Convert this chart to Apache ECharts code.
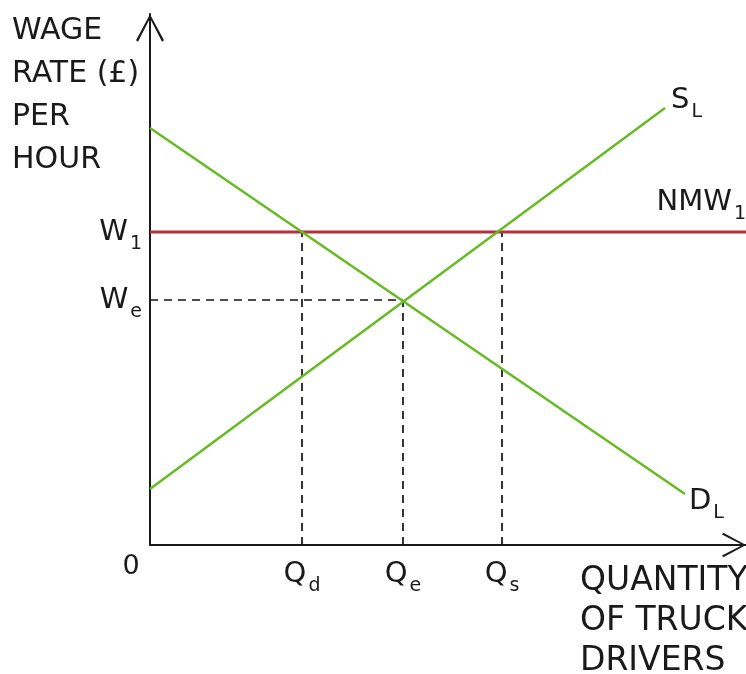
<!DOCTYPE html>
<html>
<head>
<meta charset="utf-8">
<script src="https://cdn.jsdelivr.net/npm/echarts@6/dist/echarts.min.js"></script>
<style>
html, body { margin: 0; padding: 0; background: #fff; }
#container { width: 746px; height: 674px; }
</style>
</head>
<body>
<div id="container"></div>
<script>
// diagram units: quantity along x, wage along y
var demandLine = [[0, 417], [535, 51]];
var supplyLine = [[0, 56], [515, 437]];
var wageW1 = 313;
var wageWe = 245;
var qD = 152;
var qE = 253;
var qS = 352;
var xMax = 596;
var yMax = 531;
var yTickValues = [wageWe, wageW1];
var yTickLabels = ['W{s|e}', 'W{s|1}'];
var xTickValues = [0, qD, qE, qS];
var xTickLabels = ['{z|0}', 'Q{s|d}', 'Q{s|e}', 'Q{s|s}'];

var font = 'DejaVu Sans';
var green = '#66bb22';
var red = '#b3323f';
var ink = '#1a1a1a';

// subscript style shared by every label
var rich = {
	s: { fontSize: 19, fontFamily: font, color: ink, padding: [24, 0, 0, 2] },
	z: { fontSize: 27, fontFamily: font, color: ink, padding: [0, 38, 0, 0] }
};

function labelStyle(extra) {
	var o = { fontSize: 29, fontFamily: font, color: ink, rich: rich };
	for (var k in extra) o[k] = extra[k];
	return o;
}

function dashed(points) {
	return {
		type: 'line',
		data: points,
		symbol: 'none',
		silent: true,
		z: 1,
		lineStyle: { color: '#111', width: 1.7, type: [8, 6] }
	};
}

var arrow = 'path://M14,0 L28,26 L26,27.5 L14,4 L2,27.5 L0,26 Z';

var myChart = echarts.init(document.getElementById('container'));
var option = {
	animation: false,
	grid: { left: 150, top: 14, right: 0, bottom: 129 },
	xAxis: {
		type: 'value', min: 0, max: xMax,
		splitLine: { show: false },
		axisLine: {
			lineStyle: { color: ink, width: 2 },
			symbol: ['none', arrow], symbolSize: [28, 24], symbolOffset: [0, -12]
		},
		axisTick: { show: false },
		axisLabel: labelStyle({
			customValues: xTickValues,
			margin: 8,
			formatter: function(v) { return xTickLabels[xTickValues.indexOf(v)]; }
		})
	},
	yAxis: {
		type: 'value', min: 0, max: yMax,
		splitLine: { show: false },
		axisLine: {
			lineStyle: { color: ink, width: 2 },
			symbol: ['none', arrow], symbolSize: [28, 28], symbolOffset: [0, -14]
		},
		axisTick: { show: false },
		axisLabel: labelStyle({
			customValues: yTickValues,
			margin: 8,
			formatter: function(v) { return yTickLabels[yTickValues.indexOf(v)]; }
		})
	},
	graphic: [
		{ type: 'text', left: 12, top: 10, style: { text: 'WAGE\nRATE (£)\nPER\nHOUR', font: '30px "DejaVu Sans"', fill: ink, lineHeight: 43 } },
		{ type: 'text', left: 580, top: 561, style: { text: 'QUANTITY\nOF TRUCK\nDRIVERS', font: '33px "DejaVu Sans"', fill: ink, lineHeight: 40 } }
	],
	series: [
		dashed([[0, wageWe], [qE, wageWe]]),
		dashed([[qD, 0], [qD, wageW1]]),
		dashed([[qE, 0], [qE, wageWe]]),
		dashed([[qS, 0], [qS, wageW1]]),
		{
			type: 'line', name: 'NMW',
			data: [[0, wageW1], [xMax, wageW1]],
			symbol: 'none', z: 2,
			lineStyle: { color: red, width: 3 },
			endLabel: labelStyle({
				show: true, formatter: 'NMW{s|1}', align: 'right', distance: 0, offset: [0, -30]
			})
		},
		{
			type: 'line', name: 'D',
			data: demandLine,
			symbol: 'none', z: 3,
			lineStyle: { color: green, width: 2.5 },
			endLabel: labelStyle({
				show: true, formatter: 'D{s|L}', offset: [2, 7], distance: 2
			})
		},
		{
			type: 'line', name: 'S',
			data: supplyLine,
			symbol: 'none', z: 3,
			lineStyle: { color: green, width: 2.5 },
			endLabel: labelStyle({
				show: true, formatter: 'S{s|L}', offset: [2, -8], distance: 4
			})
		}
	]
};
myChart.setOption(option);
</script>
</body>
</html>
